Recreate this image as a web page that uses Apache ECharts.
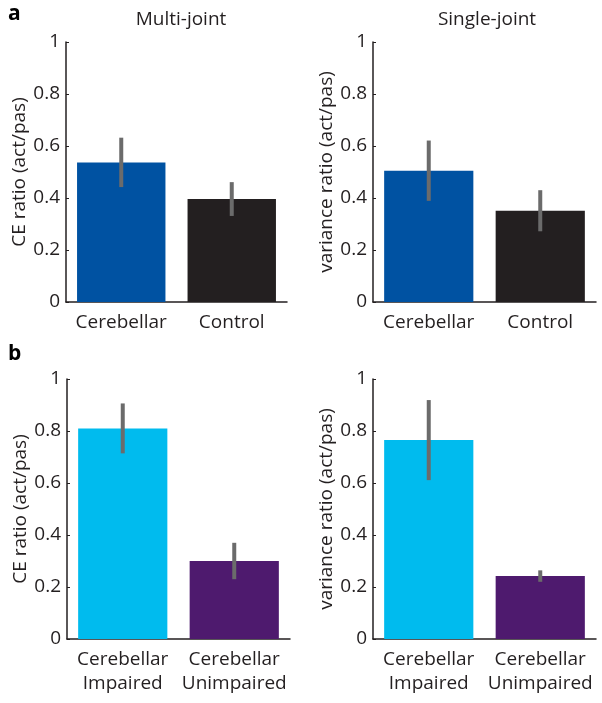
<!DOCTYPE html>
<html>
<head>
<meta charset="utf-8">
<script src="https://cdn.jsdelivr.net/npm/echarts@6/dist/echarts.min.js"></script>
<style>
html,body{margin:0;padding:0;background:#fff;}
#chart{width:602px;height:703px;}
</style>
</head>
<body>
<div id="chart"></div>
<script>
var categoriesTop = ['Cerebellar', 'Control'];
var categoriesBottom = ['Cerebellar\nImpaired', 'Cerebellar\nUnimpaired'];
var yTicks = [0, 0.2, 0.4, 0.6, 0.8, 1];

var multiJointCE = [0.537, 0.396];
var multiJointCEErr = [0.095, 0.065];
var singleJointVar = [0.505, 0.351];
var singleJointVarErr = [0.116, 0.079];
var impairedCE = [0.810, 0.300];
var impairedCEErr = [0.096, 0.070];
var impairedVar = [0.765, 0.242];
var impairedVarErr = [0.154, 0.022];

var colorsTop = ['#0052a2', '#231f20'];
var colorsBottom = ['#00bbee', '#4e1a6e'];

var FONT = '"Open Sans", "Noto Sans", sans-serif';
var TXT = '#231f20';
var FS = 19;

var panels = [
  {grid: {left: 66, top: 42, width: 221, height: 260}, cats: categoriesTop, vals: multiJointCE, err: multiJointCEErr, colors: colorsTop, name: 'CE ratio (act/pas)'},
  {grid: {left: 373, top: 42, width: 223, height: 260}, cats: categoriesTop, vals: singleJointVar, err: singleJointVarErr, colors: colorsTop, name: 'variance ratio (act/pas)'},
  {grid: {left: 67, top: 379, width: 223, height: 260}, cats: categoriesBottom, vals: impairedCE, err: impairedCEErr, colors: colorsBottom, name: 'CE ratio (act/pas)'},
  {grid: {left: 373, top: 379, width: 223, height: 260}, cats: categoriesBottom, vals: impairedVar, err: impairedVarErr, colors: colorsBottom, name: 'variance ratio (act/pas)'}
];

var grids = [], xAxes = [], yAxes = [], series = [];
panels.forEach(function (p, i) {
  grids.push(p.grid);
  xAxes.push({
    type: 'category', gridIndex: i, data: p.cats,
    axisLine: {lineStyle: {color: TXT, width: 1.5}},
    axisTick: {show: false},
    axisLabel: {color: TXT, fontFamily: FONT, fontSize: FS, margin: 9, lineHeight: 24, interval: 0}
  });
  yAxes.push({
    type: 'value', gridIndex: i, min: 0, max: 1, interval: 0.2,
    name: p.name, nameLocation: 'middle', nameGap: 37,
    nameTextStyle: {color: TXT, fontFamily: FONT, fontSize: FS},
    axisLine: {show: true, lineStyle: {color: TXT, width: 1.5}},
    axisTick: {show: true, inside: true, length: 3, lineStyle: {color: TXT, width: 1}},
    splitLine: {show: false},
    axisLabel: {color: TXT, fontFamily: FONT, fontSize: FS, margin: 6,
      formatter: function (v) { return String(Math.round(v * 10) / 10); }}
  });
  series.push({
    type: 'bar', xAxisIndex: i, yAxisIndex: i, barWidth: '80%',
    data: p.vals.map(function (v, k) { return {value: v, itemStyle: {color: p.colors[k]}}; }),
    silent: true
  });
  series.push({
    type: 'custom', xAxisIndex: i, yAxisIndex: i, silent: true, z: 5,
    data: p.vals.map(function (v, k) { return [k, v - p.err[k], v + p.err[k]]; }),
    renderItem: function (params, api) {
      var a = api.coord([api.value(0), api.value(1)]);
      var b = api.coord([api.value(0), api.value(2)]);
      return {type: 'line', shape: {x1: a[0], y1: a[1], x2: b[0], y2: b[1]},
        style: {stroke: '#6b6b6b', lineWidth: 4}};
    }
  });
});

var chart = echarts.init(document.getElementById('chart'), null, {renderer: 'canvas'});
chart.setOption({
  animation: false,
  backgroundColor: '#ffffff',
  title: [
    {text: 'Multi-joint', left: 176, top: 5, textAlign: 'center', textStyle: {color: TXT, fontFamily: FONT, fontSize: FS, fontWeight: 'normal'}},
    {text: 'Single-joint', left: 482, top: 5, textAlign: 'center', textStyle: {color: TXT, fontFamily: FONT, fontSize: FS, fontWeight: 'normal'}},
    {text: 'a', left: 3, top: -1, textStyle: {color: '#000', fontFamily: FONT, fontSize: 21, fontWeight: 'bold'}},
    {text: 'b', left: 3, top: 339, textStyle: {color: '#000', fontFamily: FONT, fontSize: 21, fontWeight: 'bold'}}
  ],
  grid: grids, xAxis: xAxes, yAxis: yAxes, series: series
});
</script>
</body>
</html>
